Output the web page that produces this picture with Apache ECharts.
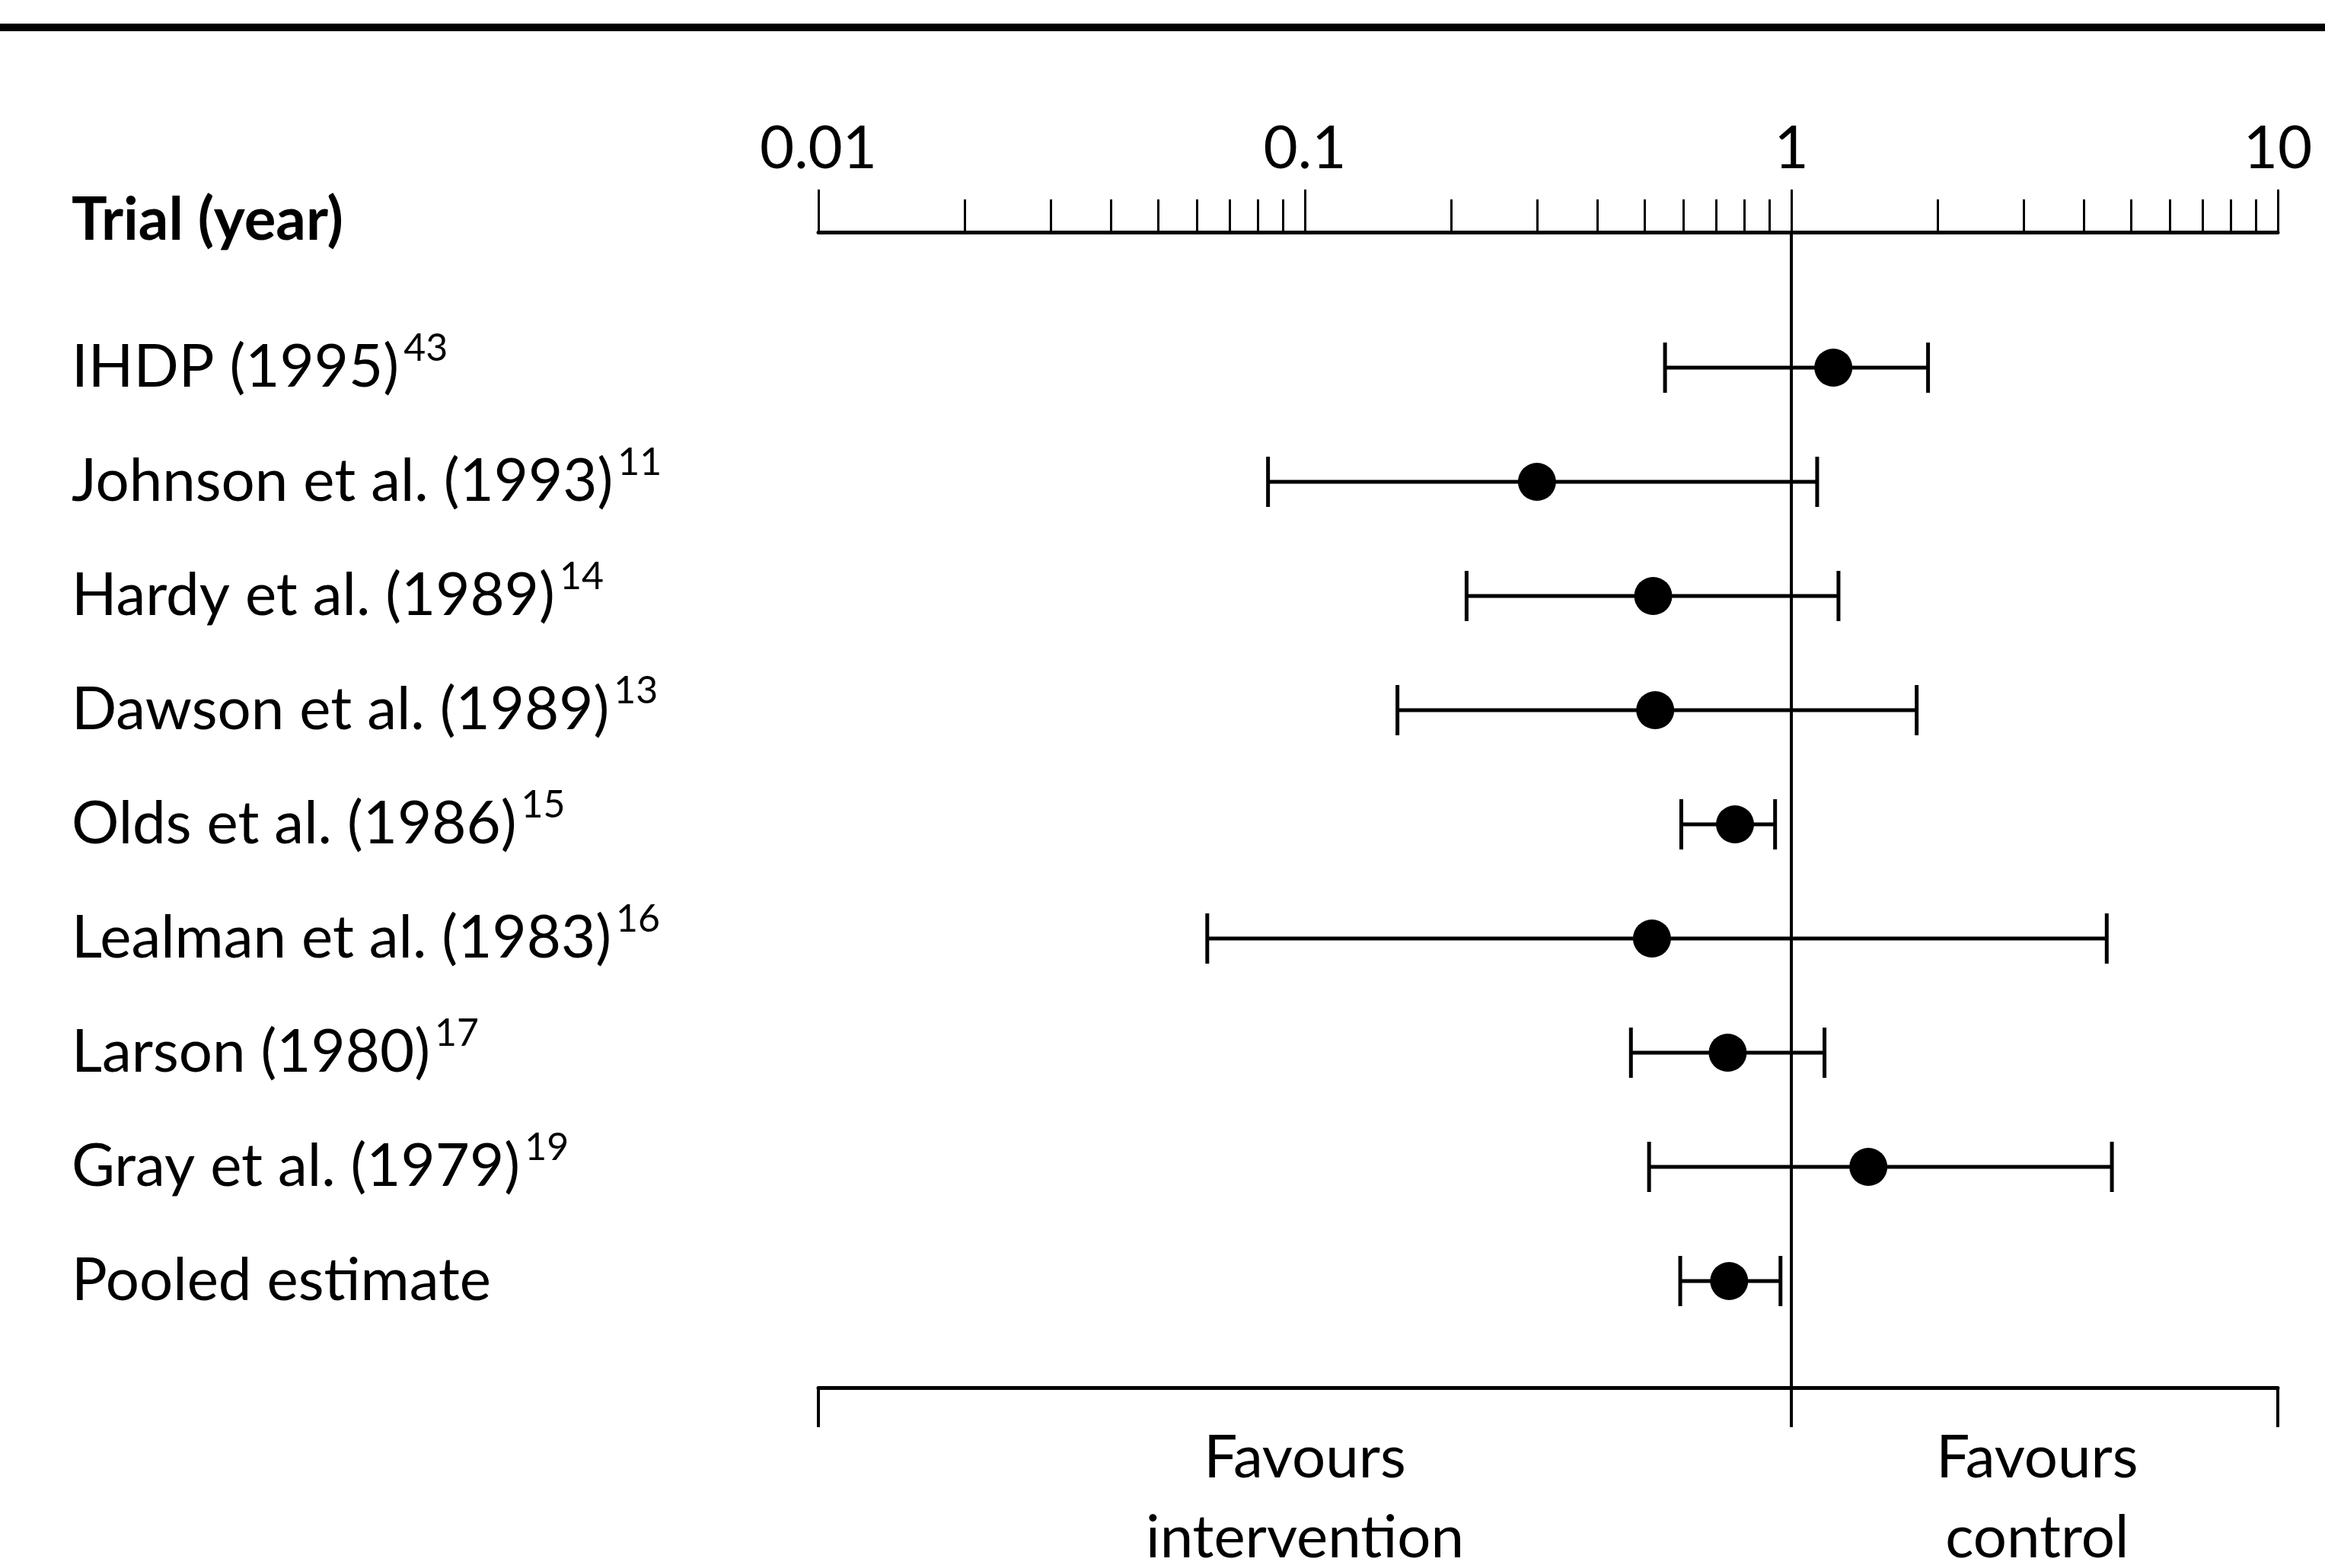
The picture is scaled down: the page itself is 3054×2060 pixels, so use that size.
<!DOCTYPE html>
<html>
<head>
<meta charset="utf-8">
<script src="https://cdn.jsdelivr.net/npm/echarts@6/dist/echarts.min.js"></script>
<style>
  html, body { margin: 0; padding: 0; background: #fff; }
  #main { width: 3054px; height: 2060px; }
</style>
</head>
<body>
<div id="main"></div>
<script>
// trials, top to bottom
const trials = [
  'IHDP (1995)',
  'Johnson et al. (1993)',
  'Hardy et al. (1989)',
  'Dawson et al. (1989)',
  'Olds et al. (1986)',
  'Lealman et al. (1983)',
  'Larson (1980)',
  'Gray et al. (1979)',
  'Pooled estimate'
];
const refs = ['43', '11', '14', '13', '15', '16', '17', '19', ''];

// odds ratio and 95% CI
const estimate = [1.22, 0.30, 0.52, 0.525, 0.766, 0.517, 0.74, 1.44, 0.745];
const lower    = [0.55, 0.084, 0.215, 0.155, 0.594, 0.063, 0.468, 0.51, 0.591];
const upper    = [1.91, 1.13, 1.25, 1.81, 0.926, 4.45, 1.17, 4.56, 0.95];

const majorTicks = [0.01, 0.1, 1, 10];
const minorTicks = [0.02, 0.03, 0.04, 0.05, 0.06, 0.07, 0.08, 0.09,
                    0.2, 0.3, 0.4, 0.5, 0.6, 0.7, 0.8, 0.9,
                    2, 3, 4, 5, 6, 7, 8, 9];
const bracketTicks = [0.01, 1, 10];
const bracketLabelAt = [0.1, 3.2];
const bracketLabels = ['Favours\nintervention', 'Favours\ncontrol'];

const FONT = 'Lato, "Open Sans", sans-serif';
const INK = '#000';

// layout
const gridTop = 305, gridBottomY = 1823, rowPitch = 150, firstRowY = 483;
const yMin = -(firstRowY - gridTop) / rowPitch;
const yMax = yMin + (gridBottomY - gridTop) / rowPitch;
const rowIdx = trials.map((t, i) => i);

const chart = echarts.init(document.getElementById('main'), null, { renderer: 'canvas' });

const ciData = trials.map((t, i) => [i, lower[i], upper[i]]);
const pointData = trials.map((t, i) => [estimate[i], i]);

const logAxis = {
  type: 'log',
  logBase: 10,
  min: 0.01,
  max: 10,
  gridIndex: 0,
  splitLine: { show: false }
};

const option = {
  animation: false,
  backgroundColor: '#fff',
  grid: {
    left: 1075,
    right: 3054 - 2992,
    top: gridTop,
    bottom: 2060 - gridBottomY,
    containLabel: false,
    outerBoundsMode: 'none'
  },
  xAxis: [
    Object.assign({}, logAxis, {
      position: 'top',
      axisLine: { show: true, onZero: false, lineStyle: { color: INK, width: 5 } },
      axisTick: { show: true, length: 56, customValues: majorTicks,
                  lineStyle: { color: INK, width: 3 } },
      axisLabel: {
        show: true, color: INK, fontSize: 78, fontFamily: FONT, margin: 70,
        customValues: majorTicks,
        formatter: v => String(v)
      }
    }),
    Object.assign({}, logAxis, {
      position: 'top',
      axisLine: { show: false, onZero: false },
      axisTick: { show: true, length: 43, customValues: minorTicks,
                  lineStyle: { color: INK, width: 3 } },
      axisLabel: { show: false }
    }),
    Object.assign({}, logAxis, {
      position: 'bottom',
      axisLine: { show: true, onZero: false, lineStyle: { color: INK, width: 5 } },
      axisTick: { show: true, length: 52, customValues: bracketTicks,
                  lineStyle: { color: INK, width: 4 } },
      axisLabel: {
        show: true, color: INK, fontSize: 78, fontFamily: FONT,
        lineHeight: 105, margin: 40,
        customValues: bracketLabelAt,
        formatter: v => bracketLabels[v < 1 ? 0 : 1]
      }
    })
  ],
  yAxis: {
    type: 'value',
    inverse: true,
    min: yMin,
    max: yMax,
    axisLine: { show: false, onZero: false },
    axisTick: { show: false },
    splitLine: { show: false },
    axisLabel: {
      show: true,
      customValues: rowIdx,
      align: 'left',
      margin: 1075 - 94,
      formatter: v => {
        const i = Math.round(v);
        return refs[i] ? '{t|' + trials[i] + '}{s|' + refs[i] + '}' : '{t|' + trials[i] + '}';
      },
      rich: {
        t: { fontSize: 78, lineHeight: 100, fontFamily: FONT, color: INK, verticalAlign: 'middle' },
        s: { fontSize: 50, lineHeight: 50, fontFamily: FONT, color: INK, verticalAlign: 'top',
             padding: [0, 0, 0, 6] }
      }
    }
  },
  graphic: [
    { type: 'line', shape: { x1: 0, y1: 36, x2: 3054, y2: 36 },
      style: { stroke: INK, lineWidth: 10 } },
    { type: 'text', x: 94, y: 290,
      style: { text: 'Trial (year)', font: 'bold 78px ' + FONT, fill: INK,
               verticalAlign: 'middle', align: 'left' } }
  ],
  series: [
    {
      type: 'custom',
      xAxisIndex: 0,
      data: ciData,
      encode: { x: [1, 2], y: 0 },
      renderItem: (params, api) => {
        const y = api.value(0);
        const lo = api.coord([api.value(1), y]);
        const hi = api.coord([api.value(2), y]);
        const h = 33;
        const st = { stroke: INK, lineWidth: 5 };
        return {
          type: 'group',
          children: [
            { type: 'line', shape: { x1: lo[0], y1: lo[1], x2: hi[0], y2: hi[1] }, style: st },
            { type: 'line', shape: { x1: lo[0], y1: lo[1] - h, x2: lo[0], y2: lo[1] + h }, style: st },
            { type: 'line', shape: { x1: hi[0], y1: hi[1] - h, x2: hi[0], y2: hi[1] + h }, style: st }
          ]
        };
      },
      z: 3
    },
    {
      type: 'scatter',
      xAxisIndex: 0,
      data: pointData,
      symbol: 'circle',
      symbolSize: 50,
      itemStyle: { color: INK, opacity: 1 },
      z: 4,
      markLine: {
        silent: true,
        symbol: 'none',
        label: { show: false },
        lineStyle: { color: INK, width: 4, type: 'solid', opacity: 1 },
        data: [{ xAxis: 1 }]
      }
    }
  ]
};

chart.setOption(option);
</script>
</body>
</html>
